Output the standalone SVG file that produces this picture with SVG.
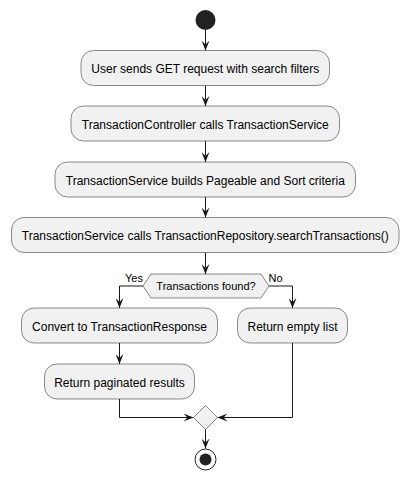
<svg xmlns="http://www.w3.org/2000/svg" width="410" height="481" viewBox="0 0 410 481">
<style>
.box{fill:#F1F1F1;stroke:#181818;stroke-width:0.5}
.t{font-family:"Liberation Sans",Arial,sans-serif;font-size:12px;fill:#000;text-anchor:middle}
.s{font-family:"Liberation Sans",Arial,sans-serif;font-size:11px;fill:#000}
.c{fill:none;stroke:#181818;stroke-width:1}
</style>
<defs>
<marker id="ah" viewBox="0 0 10 8" refX="10" refY="4" markerWidth="10" markerHeight="8" markerUnits="userSpaceOnUse" orient="auto">
<path d="M0,0 L10,4 L0,8 L4,4 Z" fill="#181818"/>
</marker>
</defs>
<rect width="410" height="481" fill="#FFFFFF"/>
<g id="connectors">
<path class="c" marker-end="url(#ah)" d="M205.5,30 V50.5"/>
<path class="c" marker-end="url(#ah)" d="M205.5,85.5 V106"/>
<path class="c" marker-end="url(#ah)" d="M205.5,141 V162"/>
<path class="c" marker-end="url(#ah)" d="M205.5,197 V217.5"/>
<path class="c" marker-end="url(#ah)" d="M205.5,252.5 V274"/>
<path class="c" marker-end="url(#ah)" d="M143,286 H119.5 V308"/>
<path class="c" marker-end="url(#ah)" d="M269,286 H292.5 V308"/>
<path class="c" marker-end="url(#ah)" d="M119.5,343 V364"/>
<path class="c" marker-end="url(#ah)" d="M119.5,399 V417.5 H193.5"/>
<path class="c" marker-end="url(#ah)" d="M292.5,343 V417.5 H217.5"/>
<path class="c" marker-end="url(#ah)" d="M205.5,429.5 V448.5"/>
<text class="s" x="125" y="282">Yes</text>
<text class="s" x="268.5" y="282">No</text>
</g>
<g id="start"><circle cx="205.5" cy="20" r="10" fill="#222222"/></g>
<g id="n1"><rect class="box" x="81" y="50.5" width="248.5" height="35" rx="12.5"/><text class="t" x="205.3" y="73">User sends GET request with search filters</text></g>
<g id="n2"><rect class="box" x="71" y="106" width="268.5" height="35" rx="12.5"/><text class="t" x="205.3" y="128.5">TransactionController calls TransactionService</text></g>
<g id="n3"><rect class="box" x="55" y="162" width="300.5" height="35" rx="12.5"/><text class="t" x="205.3" y="184.5">TransactionService builds Pageable and Sort criteria</text></g>
<g id="n4"><rect class="box" x="11.5" y="217.5" width="387.5" height="35" rx="12.5"/><text class="t" x="205.3" y="240">TransactionService calls TransactionRepository.searchTransactions()</text></g>
<g id="decision"><polygon class="box" points="143,286 151,274 261,274 269,286 261,298 151,298"/><text class="s" x="206" y="290" text-anchor="middle">Transactions found?</text></g>
<g id="n5"><rect class="box" x="21.5" y="308" width="196" height="35" rx="12.5"/><text class="t" x="119.5" y="330.5">Convert to TransactionResponse</text></g>
<g id="n6"><rect class="box" x="237.5" y="308" width="110" height="35" rx="12.5"/><text class="t" x="292.5" y="330.5">Return empty list</text></g>
<g id="n7"><rect class="box" x="44.5" y="364" width="150" height="35" rx="12.5"/><text class="t" x="119.5" y="386.5">Return paginated results</text></g>
<g id="merge"><polygon class="box" points="205.5,405.5 217.5,417.5 205.5,429.5 193.5,417.5"/></g>
<g id="end"><circle cx="205.5" cy="459.5" r="10.5" fill="none" stroke="#222222" stroke-width="1"/><circle cx="205.5" cy="459.5" r="6" fill="#222222"/></g>
</svg>
